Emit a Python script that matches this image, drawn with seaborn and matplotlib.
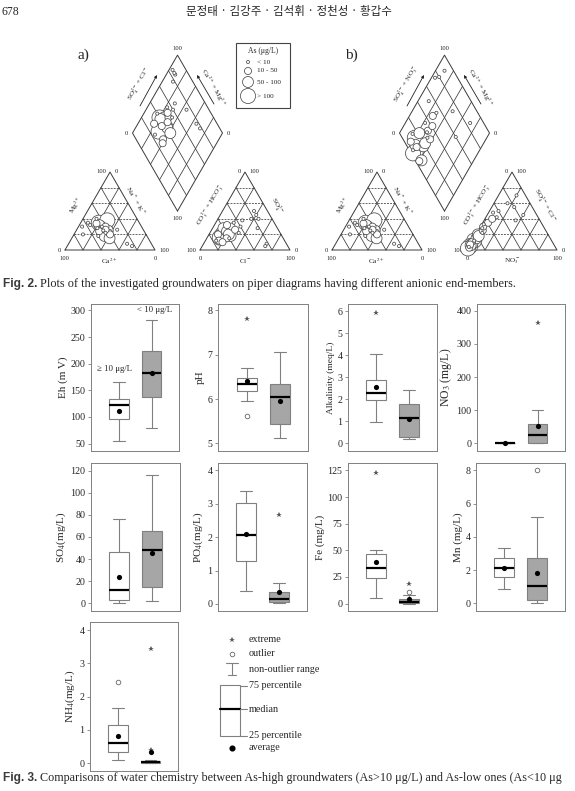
import numpy as np
import matplotlib
matplotlib.use('Agg')
import matplotlib.pyplot as plt
from matplotlib.patches import Rectangle
import seaborn as sns

# ---------------- Piper data (percent of meq) ----------------
# As class: 0 = <10, 1 = 10-50, 2 = 50-100, 3 = >100 (ug/L)
as_class = [3, 3, 2, 2, 2, 1, 1, 1, 1, 2, 1, 1, 3, 1, 2, 0, 0, 0, 0, 0, 0, 0, 0, 0, 0, 0, 0, 0]
mg = [35, 28, 30, 25, 32, 27, 22, 30, 20, 18, 34, 26, 38, 24, 15, 30, 20, 35, 5, 8, 25, 28, 22, 40, 26, 18, 32, 30]
nak = [20, 30, 25, 35, 22, 28, 38, 30, 40, 35, 18, 32, 28, 26, 42, 4, 10, 8, 72, 65, 30, 22, 34, 15, 45, 28, 12, 26]
so4 = [22, 20, 25, 18, 28, 15, 20, 30, 12, 24, 10, 32, 16, 26, 20, 45, 50, 40, 8, 40, 30, 35, 22, 15, 5, 38, 28, 12]
cl = [18, 15, 20, 25, 12, 22, 10, 20, 15, 18, 20, 14, 14, 26, 22, 40, 35, 45, 70, 37, 30, 20, 32, 25, 70, 28, 50, 12]
# b) anionic end-members: SO4+Cl (apex) and NO3 (right)
socl_b = [12, 5, 8, 15, 20, 10, 25, 30, 3, 18, 7, 35, 2, 40, 6, 60, 70, 55, 45, 50, 28, 33, 22, 12, 38, 42, 48, 4]
no3_b = [2, 1, 2, 3, 2, 0, 5, 3, 1, 4, 0, 6, 0, 8, 1, 15, 20, 25, 40, 10, 3, 2, 6, 2, 35, 12, 5, 0]

legend_classes = [0, 1, 2, 3]
legend_labels = ['< 10', '10 - 50', '50 - 100', '> 100']

# ---------------- box plot summaries ----------------
# [whisker low, Q1, median, Q3, whisker high] for As>=10 (white) and As<10 (grey)
eh_box = [[54, 96, 123, 133, 165], [79, 138, 183, 224, 282]]
eh_mean = [111, 183]
ph_box = [[5.96, 6.19, 6.34, 6.47, 6.70], [5.13, 5.43, 6.05, 6.33, 7.06]]
ph_mean = [6.40, 5.96]
ph_outlier = [[5.62], []]
ph_extreme = [[7.80], []]
alk_box = [[0.95, 1.97, 2.27, 2.87, 4.07], [0.18, 0.30, 1.15, 1.77, 2.40]]
alk_mean = [2.56, 1.12]
alk_extreme = [[5.92], []]
no3_box = [[0, 0, 0.5, 1.5, 2], [0, 0, 24, 57, 100]]
no3_mean = [0.5, 51]
no3_extreme = [[], [364]]
so4_box = [[0, 3.3, 12.4, 46.6, 76], [2.4, 14.8, 48.6, 65.3, 116]]
so4_mean = [24, 45.6]
po4_box = [[0.38, 1.28, 2.06, 3.01, 3.39], [0.04, 0.06, 0.14, 0.36, 0.62]]
po4_mean = [2.09, 0.36]
po4_extreme = [[], [2.67]]
fe_box = [[5.3, 24.2, 33, 46.8, 50.3], [0, 0.3, 1.3, 4, 7.8]]
fe_mean = [38.6, 4.0]
fe_outlier = [[], [11]]
fe_extreme = [[122.5], [17.9]]
mn_box = [[0.89, 1.57, 2.10, 2.70, 3.34], [0.02, 0.22, 1.03, 2.70, 5.20]]
mn_mean = [2.10, 1.81]
mn_outlier = [[], [8.0]]
nh4_box = [[0.08, 0.33, 0.59, 1.14, 1.66], [0.0, 0.01, 0.03, 0.05, 0.08]]
nh4_mean = [0.81, 0.33]
nh4_outlier = [[2.43], []]
nh4_extreme = [[], [3.45, 0.38]]

# ---------------- style ----------------
sns.set_style('white')
plt.rcParams['font.family'] = ['Liberation Serif', 'Noto Sans CJK KR', 'DejaVu Sans']
plt.rcParams['mathtext.fontset'] = 'stix'

W, H = 575, 791
fig = plt.figure(figsize=(W / 100, H / 100), dpi=100)
bg = fig.add_axes([0, 0, 1, 1])
bg.axis('off')
bg.set_xlim(0, W)
bg.set_ylim(H, 0)

SQ = np.sqrt(3) / 2
S = 90.0       # triangle side in px
G = 0.5        # gap between triangles / side
LC = '#3a3a3a'
SIZES = {0: 5, 1: 26, 2: 62, 3: 118}


def P(X0, Y0, u, v):
    return X0 + S * np.asarray(u, float), Y0 - S * np.asarray(v, float)


def seg(X0, Y0, u1, v1, u2, v2, **kw):
    x, y = P(X0, Y0, [u1, u2], [v1, v2])
    bg.plot(x, y, color=LC, lw=0.55, **kw)


def piper_frame(X0, Y0):
    for ox in (0, 1 + G):
        x, y = P(X0, Y0, [ox, ox + 1, ox + 0.5, ox], [0, 0, SQ, 0])
        bg.plot(x, y, color=LC, lw=0.7)
        for f in (0.2, 0.4, 0.6, 0.8):
            seg(X0, Y0, ox + f / 2, f * SQ, ox + 1 - f / 2, f * SQ, ls=(0, (2.5, 1.5)))
            seg(X0, Y0, ox + f, 0, ox + f + (1 - f) / 2, (1 - f) * SQ)
            seg(X0, Y0, ox + f, 0, ox + f / 2, f * SQ)
    bu, bv = 1 + G / 2, G * SQ
    x, y = P(X0, Y0, [bu, bu + 0.5, bu, bu - 0.5, bu], [bv, bv + SQ, bv + 2 * SQ, bv + SQ, bv])
    bg.plot(x, y, color=LC, lw=0.7)
    for f in (0.2, 0.4, 0.6, 0.8):
        seg(X0, Y0, bu - f / 2, bv + f * SQ, bu - f / 2 + 0.5, bv + f * SQ + SQ)
        seg(X0, Y0, bu + f / 2, bv + f * SQ, bu + f / 2 - 0.5, bv + f * SQ + SQ)

    def num(u, v, dx, dy, s):
        x, y = P(X0, Y0, u, v)
        bg.text(x + dx, y + dy, s, fontsize=4.7, ha='center', va='center')
    num(bu, bv + 2 * SQ, 0, -7, '100')
    num(bu - 0.5, bv + SQ, -6, 0, '0')
    num(bu + 0.5, bv + SQ, 6, 0, '0')
    num(bu, bv, 0, 7, '100')
    num(0.5, SQ, -9, -1, '100'); num(0.5, SQ, 6, -1, '0')
    num(0, 0, -6, 0, '0'); num(0, 0, -1, 9, '100')
    num(1, 0, 9, 0, '100'); num(1, 0, 0, 9, '0')
    num(1.5 + G, SQ, -6, -1, '0'); num(1.5 + G, SQ, 9, -1, '100')
    num(1 + G, 0, -9, 0, '100'); num(1 + G, 0, 0, 9, '0')
    num(2 + G, 0, 6, 0, '0'); num(2 + G, 0, 0, 9, '100')


def piper_points(X0, Y0, top_a, right_a):
    n = np.array(nak) / 100
    m_ = np.array(mg) / 100
    t = np.array(top_a) / 100
    r = np.array(right_a) / 100
    cu, cv = n + m_ / 2, m_ * SQ
    au, av = 1 + G + r + t / 2, t * SQ
    m, s = 1 - n, t + r
    du, dv = 1 + G / 2 + (s - m) / 2, G * SQ + (m + s) * SQ
    cls = np.array(as_class)
    order = np.argsort(-cls, kind='stable')
    us = np.concatenate([cu[order], au[order], du[order]])
    vs = np.concatenate([cv[order], av[order], dv[order]])
    cc = np.concatenate([cls[order]] * 3)
    x, y = P(X0, Y0, us, vs)
    sns.scatterplot(x=x, y=y, size=cc, sizes=SIZES,
                    color='white', edgecolor='#4a4a4a', linewidth=0.55,
                    legend=False, ax=bg, zorder=4)


def piper_labels(X0, items):
    for s, dx, y, rot in items:
        bg.text(X0 + dx, y, s, fontsize=5.2, rotation=rot, ha='center', va='center',
                rotation_mode='anchor')
    ar = dict(arrowstyle='-|>', lw=0.6, color='#222', mutation_scale=4, shrinkA=0, shrinkB=0)
    bg.annotate('', xy=(X0 + 92, 75), xytext=(X0 + 75, 106), arrowprops=ar)
    bg.annotate('', xy=(X0 + 132, 75), xytext=(X0 + 149, 104), arrowprops=ar)


common = [('Mg$^{2+}$', 11, 205, 60), ('Na$^+$ + K$^+$', 70, 201, -60),
          ('Ca$^{2+}$', 44, 261, 0), ('CO$_3^{2-}$ + HCO$_3^-$', 146, 205, 60),
          ('Ca$^{2+}$ + Mg$^{2+}$', 148, 88, -60)]

XA, XB, Y0 = 65, 332, 250
# a)
piper_frame(XA, Y0)
piper_points(XA, Y0, so4, cl)
piper_labels(XA, common + [('SO$_4^{2-}$', 211, 206, -60), ('Cl$^-$', 180, 261, 0),
                           ('SO$_4^{2-}$ + Cl$^-$', 74, 84, 60)])
bg.text(77, 55, 'a)', fontsize=11, ha='left', va='center')
# b)
piper_frame(XB, Y0)
piper_points(XB, Y0, socl_b, no3_b)
piper_labels(XB, common + [('SO$_4^{2-}$ + Cl$^-$', 212, 205, -60), ('NO$_3^-$', 180, 261, 0),
                           ('SO$_4^{2-}$ + NO$_3^-$', 74, 84, 60)])
bg.text(345, 55, 'b)', fontsize=11, ha='left', va='center')

# As legend
bg.add_patch(Rectangle((236, 43), 54, 65, fill=False, edgecolor='#444', lw=0.8))
bg.text(263, 51, 'As (μg/L)', fontsize=5.5, ha='center', va='center')
sns.scatterplot(x=[248] * 4, y=[62, 71, 82, 96], size=legend_classes,
                sizes=SIZES, color='white', edgecolor='#4a4a4a',
                linewidth=0.55, legend=False, ax=bg, zorder=4)
for yy, lab in zip([62, 71, 82, 96], legend_labels):
    bg.text(257, yy, lab, fontsize=5.2, va='center')

# header
bg.text(1, 12, '678', fontsize=8.5, va='center')
bg.text(289, 12, '문정태 · 김강주 · 김석휘 · 정천성 · 황갑수', fontsize=8.3, ha='center', va='center',
        family=['Noto Sans CJK KR', 'DejaVu Sans'])

# box-plot legend
GR = '#808080'
bg.plot(232, 640, '*', ms=3.8, color='#555', mew=0)
bg.plot(232, 654, 'o', ms=3.3, mfc='white', mec='#666', mew=0.6)
bg.plot([226, 238], [663, 663], color=GR, lw=0.8)
bg.plot([232, 232], [663, 675], color=GR, lw=0.8)
bg.plot([228, 236], [675, 675], color=GR, lw=0.8)
bg.add_patch(Rectangle((220, 685), 20, 51, fill=False, edgecolor=GR, lw=0.8))
bg.plot([220, 240], [709, 709], color='black', lw=1.6)
for yy in (686, 709, 736):
    bg.plot([240, 247], [yy, yy], color=GR, lw=0.8)
bg.plot(232, 748, 'o', ms=3.4, color='black')
for yy, lab in zip([640, 654, 669, 686, 709, 736, 748],
                   ['extreme', 'outlier', 'non-outlier range', '75 percentile', 'median',
                    '25 percentile', 'average']):
    bg.text(249, yy, lab, fontsize=7.3, va='center')


# captions: bold sans label followed by serif text
def caption(y, head, body, size=8.8):
    t = bg.text(3, y, head, fontsize=8.6, family='Liberation Sans', weight='bold',
                color='#3a3a3a', va='center')
    fig.canvas.draw()
    ext = t.get_window_extent()
    bg.text(ext.x1 + 3, y, body, fontsize=size, va='center',
            transform=matplotlib.transforms.blended_transform_factory(
                matplotlib.transforms.IdentityTransform(), bg.transData))


caption(284, 'Fig. 2.', 'Plots of the investigated groundwaters on piper diagrams having different anionic end-members.')
caption(778, 'Fig. 3.', 'Comparisons of water chemistry between As-high groundwaters (As>10 μg/L) and As-low ones (As<10 μg',
        size=8.7)

bg.set_xlim(0, W)
bg.set_ylim(H, 0)


# ---------------- box panels ----------------
def box_panel(rect, box, mean, outl, extr, ylabel, ylim, ticks, lsize=8, ann=False):
    l, t, r, b = rect
    ax = fig.add_axes([l / W, 1 - b / H, (r - l) / W, (b - t) / H])
    stats = [dict(whislo=v[0], q1=v[1], med=v[2], q3=v[3], whishi=v[4], fliers=[]) for v in box]
    art = ax.bxp(stats, positions=[1, 2], widths=0.6, capwidths=0.36, patch_artist=True,
                 showfliers=False,
                 boxprops=dict(edgecolor=GR, linewidth=0.8),
                 whiskerprops=dict(color=GR, linewidth=0.8),
                 capprops=dict(color=GR, linewidth=0.8),
                 medianprops=dict(color='black', linewidth=1.6))
    for patch, fc in zip(art['boxes'], ['white', '#a6a6a6']):
        patch.set_facecolor(fc)
    sns.scatterplot(x=[1, 2], y=mean, ax=ax, color='black', s=14, linewidth=0,
                    zorder=5, legend=False)
    for i in range(2):
        if outl[i]:
            ax.plot([i + 1] * len(outl[i]), outl[i], 'o', ms=3.3, mfc='white', mec='#666', mew=0.6)
        if extr[i]:
            ax.plot([i + 1] * len(extr[i]), extr[i], '*', ms=3.8, color='#555', mew=0)
    ax.set_xlim(0.14, 2.84)
    ax.set_ylim(*ylim)
    ax.set_yticks(ticks)
    ax.set_yticklabels(['%g' % v for v in ticks])
    ax.set_xticks([])
    ax.set_ylabel(ylabel, fontsize=lsize, labelpad=2)
    ax.tick_params(axis='y', labelsize=7.2, length=2.5, width=0.6, color=GR, pad=1.5, left=True)
    for sp in ax.spines.values():
        sp.set_color(GR)
        sp.set_linewidth(0.7)
    ax.set_facecolor('none')
    if ann:
        ax.text(0.85, 190, '≥ 10 μg/L', fontsize=6.3, ha='center', va='center')
        ax.text(2.1, 300, '< 10 μg/L', fontsize=6.3, ha='center', va='center')
    return ax


none = [[], []]
box_panel((91, 304, 179, 451), eh_box, eh_mean, none, none, 'Eh (m V)', (36, 312), np.arange(50, 301, 50), ann=True)
box_panel((218, 304, 308, 451), ph_box, ph_mean, ph_outlier, ph_extreme, 'pH', (4.83, 8.14), [5, 6, 7, 8])
box_panel((348, 304, 437, 451), alk_box, alk_mean, none, alk_extreme, 'Alkalinity (meq/L)', (-0.35, 6.32), range(0, 7), lsize=6.8)
box_panel((477, 304, 565, 451), no3_box, no3_mean, none, no3_extreme, 'NO$_3$ (mg/L)', (-23, 420), range(0, 401, 100), lsize=8.5)
box_panel((91, 463, 180, 611), so4_box, so4_mean, none, none, 'SO$_4$(mg/L)', (-7, 127), range(0, 121, 20))
box_panel((218, 463, 307, 611), po4_box, po4_mean, none, po4_extreme, 'PO$_4$(mg/L)', (-0.21, 4.22), range(0, 5))
box_panel((348, 463, 437, 611), fe_box, fe_mean, fe_outlier, fe_extreme, 'Fe (mg/L)', (-7, 132), range(0, 126, 25))
box_panel((476, 463, 565, 611), mn_box, mn_mean, mn_outlier, none, 'Mn (mg/L)', (-0.46, 8.44), range(0, 9, 2))
box_panel((90, 622, 178, 771), nh4_box, nh4_mean, nh4_outlier, nh4_extreme, 'NH$_4$(mg/L)', (-0.24, 4.25), range(0, 5))

fig.savefig('out.png', dpi=100)
